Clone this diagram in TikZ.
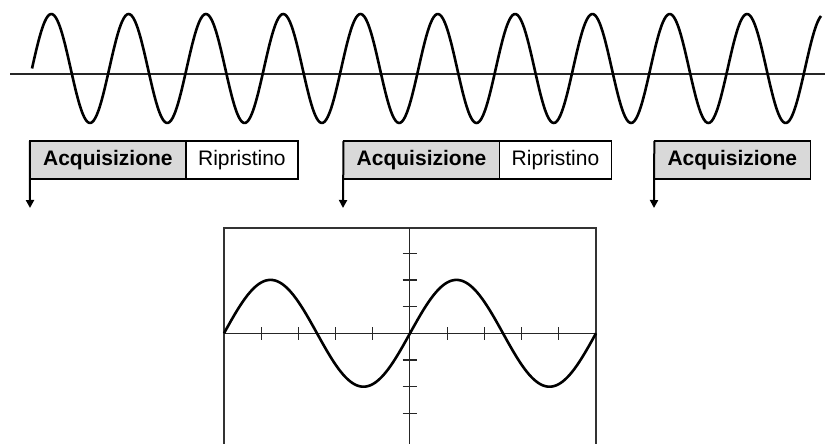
\documentclass[tikz,border=0pt]{standalone}
\usepackage{fontspec}
\setmainfont{Liberation Sans}
\setsansfont{Liberation Sans}
\usepackage{xcolor}
\usetikzlibrary{positioning, arrows.meta}

\definecolor{acqgray}{RGB}{217,217,217}

\begin{document}
\begin{tikzpicture}[
    font=\sffamily,
    x=1pt, y=-1pt,
    acq/.style={
        draw=black, line width=1.3pt, fill=acqgray,
        minimum width=156pt, minimum height=38pt, align=center,
        inner sep=2pt, outer sep=0pt,
        font=\fontsize{21}{25}\selectfont\sffamily\bfseries,
    },
    rip/.style={
        draw=black, line width=1.3pt, fill=white,
        minimum width=112pt, minimum height=38pt, align=center,
        inner sep=2pt, outer sep=0pt,
        font=\fontsize{21}{25}\selectfont\sffamily,
    },
    arrow/.style={-{Triangle[width=8pt,length=8pt]}, draw=black, line width=2pt},
    wave/.style={draw=black, line width=2.6pt, line join=round},
    axis/.style={draw=black!85, line width=1.3pt},
    frame/.style={draw=black!80, line width=1.5pt},
]
\useasboundingbox (0,0) rectangle (825,444);

% ── Signal on top ────────────────────────────────────────────────────
\draw[axis] (10,74) -- (825,74);
\draw[wave] plot[domain=32:821, samples=500, smooth]
    (\x, {68.5-54.5*sin(4.65718*(\x-32))});

% ── Acquisition / reset windows ──────────────────────────────────────
\node[acq] (acq1) at (107.9,160) {Acquisizione};
\node[rip, right=0pt of acq1] (rip1) {Ripristino};

\node[acq] (acq2) at (421.5,160) {Acquisizione};
\node[rip, right=0pt of acq2] (rip2) {Ripristino};

\node[acq] (acq3) at (732.3,160) {Acquisizione};

\coordinate (d1) at (30,208);
\coordinate (d2) at (343,208);
\coordinate (d3) at (654,208);
\draw[arrow] (acq1.north west) -- (d1);
\draw[arrow] (acq2.north west) -- (d2);
\draw[arrow] (acq3.north west) -- (d3);

% ── Reconstructed signal on the screen ───────────────────────────────
\draw[frame] (224,444) -- (224,228) -- (596,228) -- (596,444);
\draw[axis] (224,333.3) -- (596,333.3);
\draw[axis] (409.3,228) -- (409.3,444);
\foreach \i in {1,2,3,4,6,7,8,9}
    \draw[axis] (224+37.2*\i,327) -- (224+37.2*\i,340);
\foreach \k in {-3,-2,-1,1,2,3}
    \draw[axis] (402.5,333.3+26.7*\k) -- (416.5,333.3+26.7*\k);
\draw[wave] plot[domain=224:596, samples=300, smooth]
    (\x, {333.3-53.4*sin(1.935484*(\x-224))});

\end{tikzpicture}
\end{document}
